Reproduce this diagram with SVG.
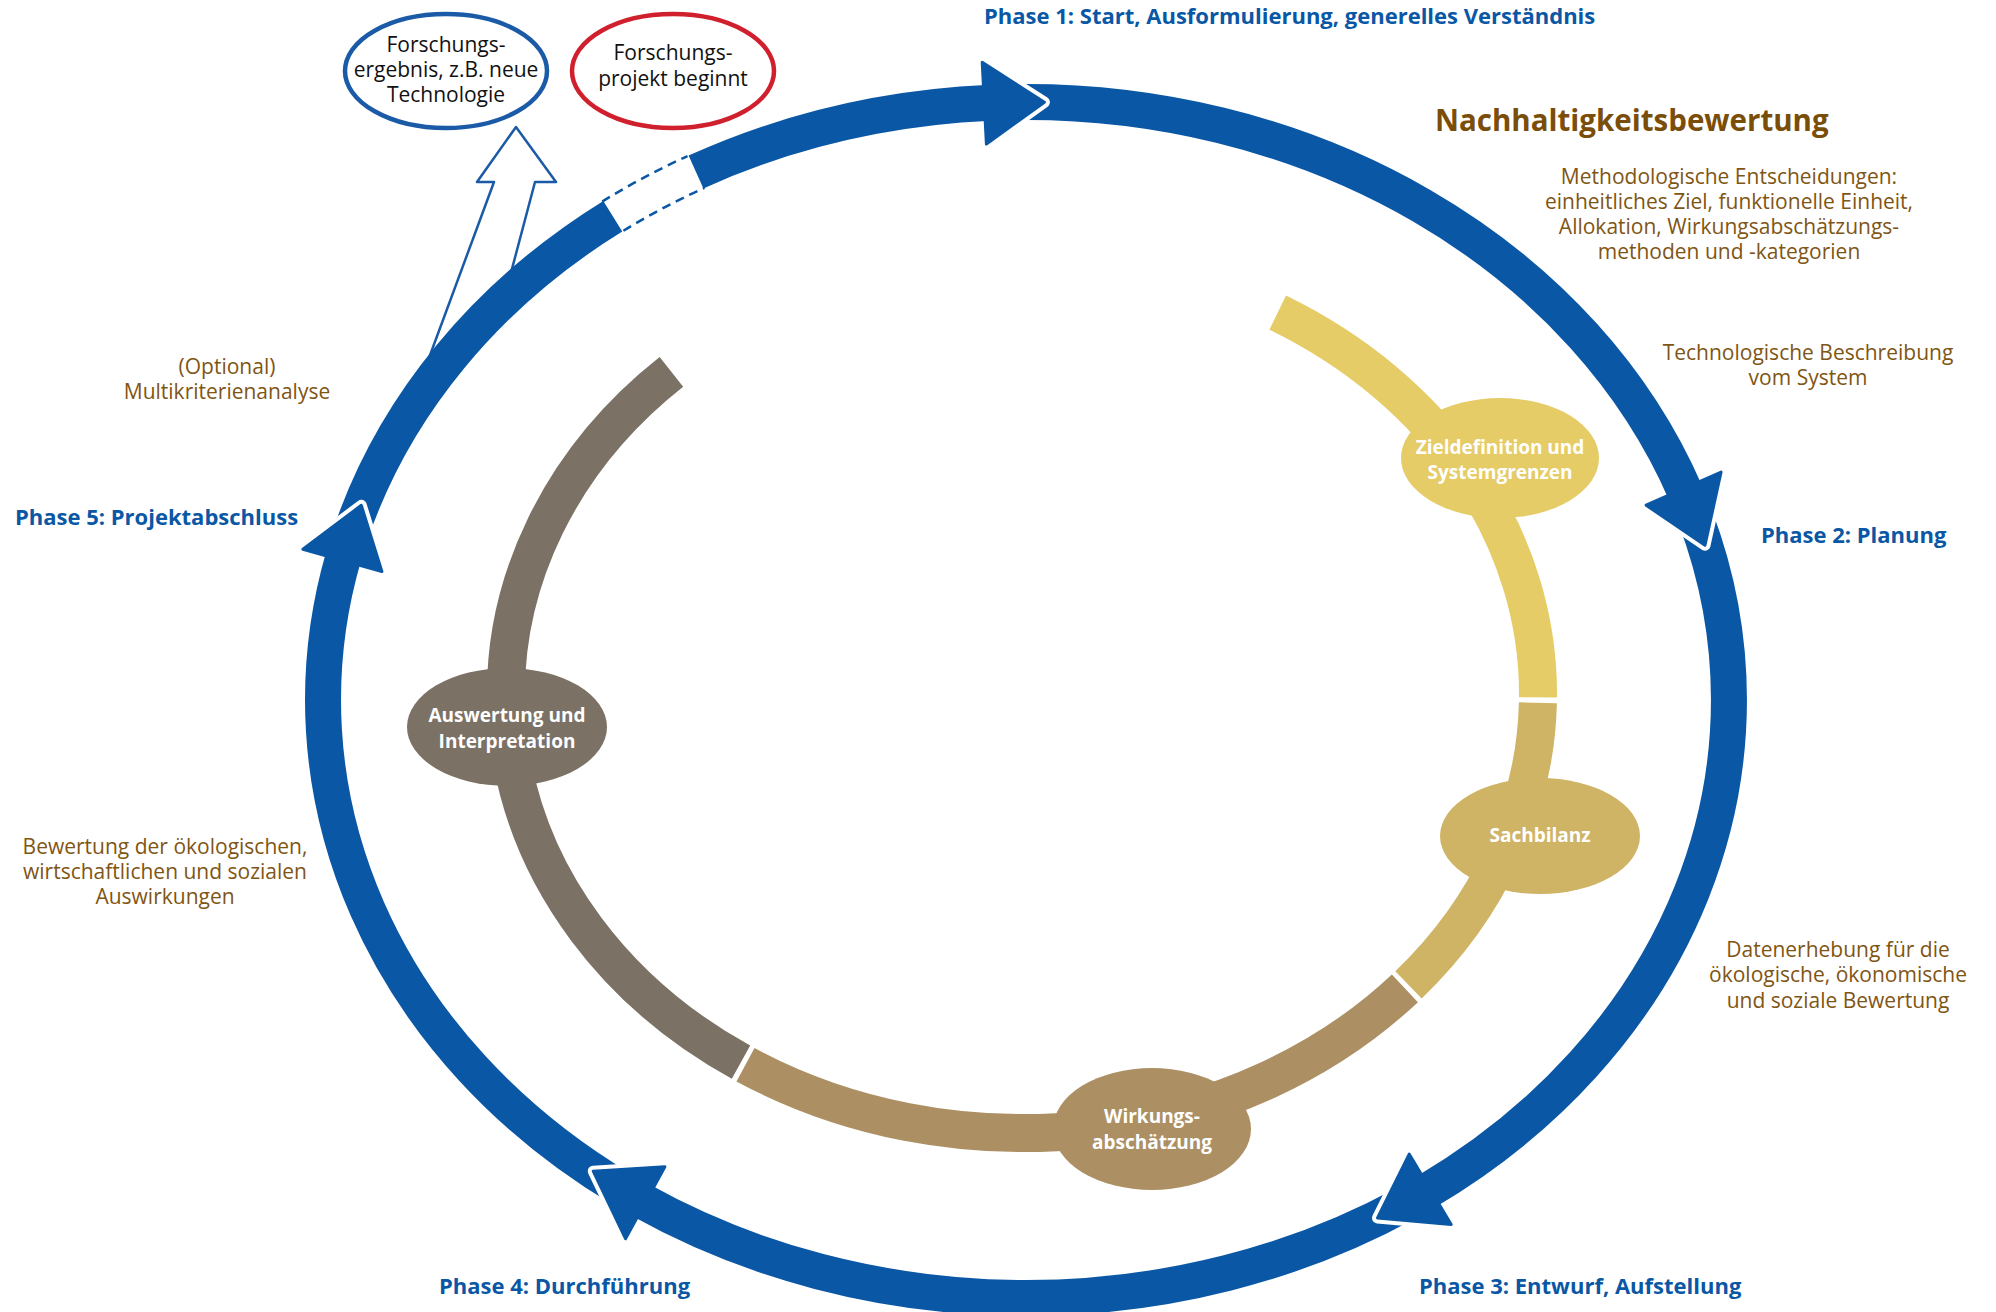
<svg xmlns="http://www.w3.org/2000/svg" width="1996" height="1312" viewBox="0 0 1996 1312">
<style>
.ring{fill:none;stroke:#0a57a5;stroke-width:36}
.head{fill:#0a57a5;stroke:#0a57a5;stroke-width:3;stroke-linejoin:round}
.notch{fill:none;stroke:#fff;stroke-width:11;stroke-linejoin:round;stroke-linecap:round}
.dash{fill:none;stroke:#0a57a5;stroke-width:2.5;stroke-dasharray:9 6}
.inner{fill:none;stroke-width:38}
text{font-family:"Open Sans","Liberation Sans",sans-serif}
.phase{font-weight:700;font-size:22px;fill:#0a57a5}
.desc{font-size:21px;fill:#7f5514;text-anchor:middle}
.title{font-size:29.5px;font-weight:700;fill:#7a4e08}
.node text{fill:#fff;font-weight:700;font-size:19px;text-anchor:middle}
.bub text{fill:#111;font-size:21px;text-anchor:middle}
</style>
<rect width="1996" height="1312" fill="#fff"/>

<g id="connectors">
  <!-- hollow result arrow (under ring) -->
  <path id="result-arrow" d="M516,127 L556,182 L535,182 L499,318 L419,385 L494,182 L477,182 Z" fill="#fff" stroke="#1a5aa6" stroke-width="2.5" stroke-linejoin="round"/>
  <!-- outer ring segments -->
  <path class="ring" d="M350.2,535.2 A703,598 0 0 1 612.8,216.2"/>
  <path class="ring" d="M696.0,172.0 A703,598 0 0 1 990.4,102.8"/>
  <path class="dash" d="M602.2,201.6 A721,616 0 0 1 687.5,156.1"/>
  <path class="dash" d="M623.4,230.8 A685,580 0 0 1 704.4,187.9"/>
  <path class="ring" d="M1010.1,102.2 A703,598 0 0 1 1685.8,493.5"/>
  <path class="ring" d="M1695.3,517.2 A703,598 0 0 1 1425.2,1192.2"/>
  <path class="ring" d="M1406.8,1202.7 A703,598 0 0 1 640.0,1199.8"/>
  <path class="ring" d="M620.8,1188.6 A703,598 0 0 1 343.6,556.3"/>
  <!-- notches -->
  <path class="notch" d="M982.2,62.2 L1044.4,102.2 L986.4,144.0"/>
  <path class="notch" d="M1721.1,472.0 L1705.0,545.2 L1646.1,505.2"/>
  <path class="notch" d="M1451.2,1224.5 L1377.5,1217.9 L1409.2,1154.1"/>
  <path class="notch" d="M625.5,1238.7 L593.2,1171.2 L664.9,1166.7"/>
  <path class="notch" d="M302.9,549.3 L361.3,505.3 L381.9,571.5"/>
  <!-- arrowheads -->
  <path class="head" d="M982.2,62.2 L1044.4,102.2 L986.4,144.0 Z"/>
  <path class="head" d="M1721.1,472.0 L1705.0,545.2 L1646.1,505.2 Z"/>
  <path class="head" d="M1451.2,1224.5 L1377.5,1217.9 L1409.2,1154.1 Z"/>
  <path class="head" d="M625.5,1238.7 L593.2,1171.2 L664.9,1166.7 Z"/>
  <path class="head" d="M302.9,549.3 L361.3,505.3 L381.9,571.5 Z"/>
  <!-- inner ring segments -->
  <path class="inner" stroke="#e5cc67" d="M1277.7,312.7 A516,439 0 0 1 1538.0,697.4"/>
  <path class="inner" stroke="#cfb466" d="M1537.9,702.8 A516,439 0 0 1 1408.5,984.9"/>
  <path class="inner" stroke="#ac9064" d="M1404.9,988.3 A516,439 0 0 1 745.5,1064.7"/>
  <path class="inner" stroke="#7b7165" d="M741.0,1062.2 A516,439 0 0 1 671.4,371.9"/>
</g>

<g id="node-ergebnis" class="bub">
  <ellipse cx="446" cy="71" rx="101" ry="57" fill="#fff" stroke="#1a5aa6" stroke-width="4.5"/>
  <text x="446" y="52">Forschungs-</text>
  <text x="446" y="77">ergebnis, z.B. neue</text>
  <text x="446" y="102">Technologie</text>
</g>
<g id="node-projekt" class="bub">
  <ellipse cx="673" cy="71" rx="101" ry="57" fill="#fff" stroke="#d0202e" stroke-width="4.5"/>
  <text x="673" y="60">Forschungs-</text>
  <text x="673" y="86">projekt beginnt</text>
</g>

<g id="node-ziel" class="node">
  <ellipse cx="1500" cy="458" rx="99" ry="60" fill="#e5cc67"/>
  <text x="1500" y="454">Zieldefinition und</text>
  <text x="1500" y="479">Systemgrenzen</text>
</g>
<g id="node-sach" class="node">
  <ellipse cx="1540" cy="836" rx="100" ry="58" fill="#cfb466"/>
  <text x="1540" y="842">Sachbilanz</text>
</g>
<g id="node-wirk" class="node">
  <ellipse cx="1152" cy="1129" rx="99" ry="61" fill="#ac9064"/>
  <text x="1152" y="1123">Wirkungs-</text>
  <text x="1152" y="1149">abschätzung</text>
</g>
<g id="node-ausw" class="node">
  <ellipse cx="507" cy="727" rx="100" ry="59" fill="#7b7165"/>
  <text x="507" y="722">Auswertung und</text>
  <text x="507" y="748">Interpretation</text>
</g>

<g id="labels">
  <text class="phase" x="984" y="24">Phase 1: Start, Ausformulierung, generelles Verständnis</text>
  <text class="phase" x="1761" y="543">Phase 2: Planung</text>
  <text class="phase" x="1419" y="1294">Phase 3: Entwurf, Aufstellung</text>
  <text class="phase" x="439" y="1294">Phase 4: Durchführung</text>
  <text class="phase" x="15" y="525">Phase 5: Projektabschluss</text>
  <text class="title" x="1435" y="131">Nachhaltigkeitsbewertung</text>
  <text class="desc" x="1729" y="184">Methodologische Entscheidungen:</text>
  <text class="desc" x="1729" y="209">einheitliches Ziel, funktionelle Einheit,</text>
  <text class="desc" x="1729" y="234">Allokation, Wirkungsabschätzungs-</text>
  <text class="desc" x="1729" y="259">methoden und -kategorien</text>
  <text class="desc" x="1808" y="360">Technologische Beschreibung</text>
  <text class="desc" x="1808" y="385">vom System</text>
  <text class="desc" x="1838" y="957">Datenerhebung für die</text>
  <text class="desc" x="1838" y="982">ökologische, ökonomische</text>
  <text class="desc" x="1838" y="1008">und soziale Bewertung</text>
  <text class="desc" x="165" y="854">Bewertung der ökologischen,</text>
  <text class="desc" x="165" y="879">wirtschaftlichen und sozialen</text>
  <text class="desc" x="165" y="904">Auswirkungen</text>
  <text class="desc" x="227" y="374">(Optional)</text>
  <text class="desc" x="227" y="399">Multikriterienanalyse</text>
</g>
</svg>
